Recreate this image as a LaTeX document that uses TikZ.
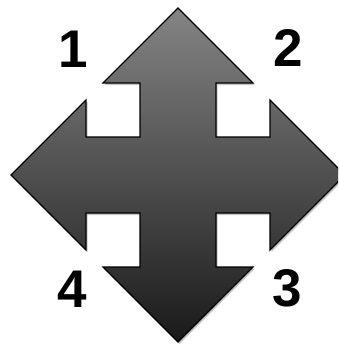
\documentclass[tikz,border=0pt]{standalone}
\usepackage{fontspec}
\setmainfont{Liberation Sans}
\usepackage{tikz}
\usetikzlibrary{shadows}

\begin{document}
\begin{tikzpicture}[x=1pt, y=-1pt,
          cross/.style={draw=black, line width=1.2pt, line join=miter,
            top color=black!48, bottom color=black!90,
            drop shadow={shadow xshift=1.5pt, shadow yshift=-2pt, opacity=0.22, fill=black}},
          num/.style={inner sep=0pt, font=\fontsize{53}{60}\selectfont\bfseries}]
        \useasboundingbox (0,0) rectangle (338,345);
        \clip (0,0) rectangle (338,345);
        \path[cross] (178,8) -- (253,83) -- (216,83) -- (216,137) -- (270,137) -- (270,100)
          -- (345,175) -- (270,250) -- (270,213) -- (216,213) -- (216,267) -- (253,267)
          -- (178,342) -- (103,267) -- (140,267) -- (140,213) -- (86,213) -- (86,250)
          -- (11,175) -- (86,100) -- (86,137) -- (140,137) -- (140,83) -- (103,83) -- cycle;
        \node[num] (n1) at (73,49) {1};
        \node[num] (n2) at (288,48) {2};
        \node[num] (n3) at (287,288) {3};
        \node[num] (n4) at (72,289) {4};
      \end{tikzpicture}
\end{document}
